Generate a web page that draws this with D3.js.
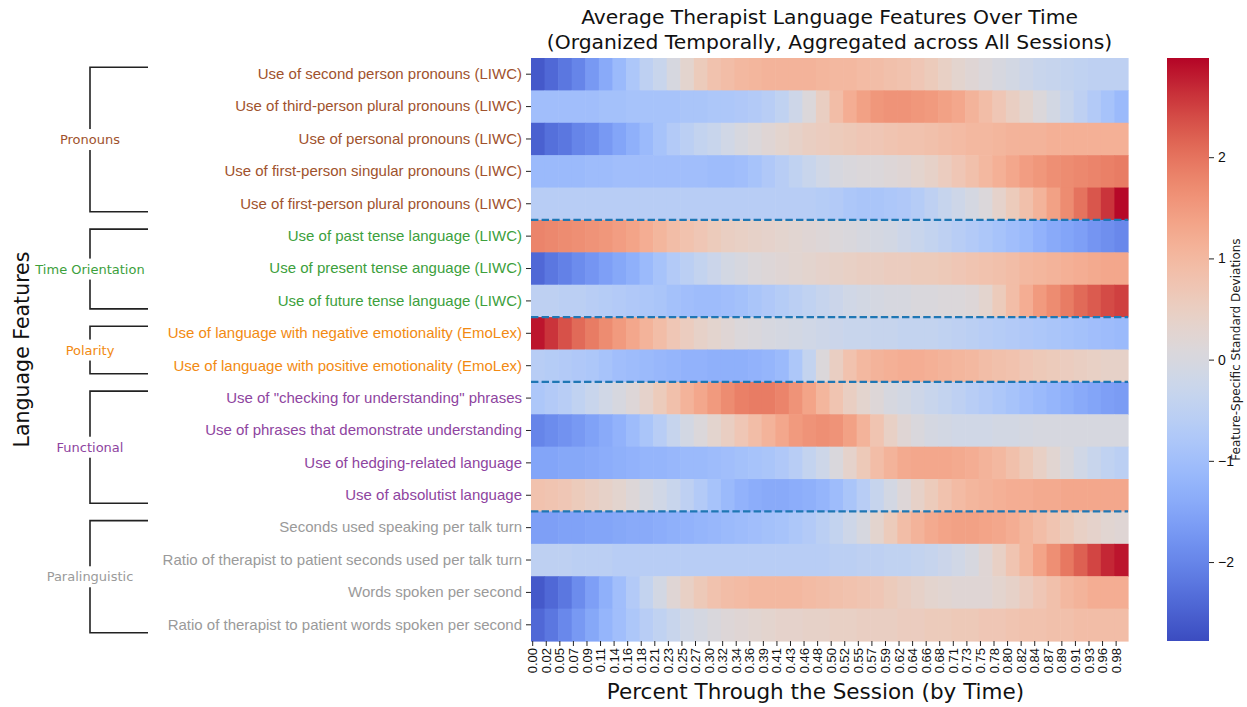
<!DOCTYPE html>
<html>
<head>
<meta charset="utf-8">
<script src="https://cdn.jsdelivr.net/npm/d3@7"></script>
<style>
  html, body { margin: 0; padding: 0; background: #fff; }
  svg { font-family: "DejaVu Sans", sans-serif; display: block; }
</style>
</head>
<body>
<div id="chart"></div>
<script>
// row labels, top to bottom
const features = [
  'Use of second person pronouns (LIWC)',
  'Use of third-person plural pronouns (LIWC)',
  'Use of personal pronouns (LIWC)',
  'Use of first-person singular pronouns (LIWC)',
  'Use of first-person plural pronouns (LIWC)',
  'Use of past tense language (LIWC)',
  'Use of present tense anguage (LIWC)',
  'Use of future tense language (LIWC)',
  'Use of language with negative emotionality (EmoLex)',
  'Use of language with positive emotionality (EmoLex)',
  'Use of "checking for understanding" phrases',
  'Use of phrases that demonstrate understanding',
  'Use of hedging-related language',
  'Use of absolutist language',
  'Seconds used speaking per talk turn',
  'Ratio of therapist to patient seconds used per talk turn',
  'Words spoken per second',
  'Ratio of therapist to patient words spoken per second'
];

const groupNames = ['Pronouns', 'Time Orientation', 'Polarity', 'Functional', 'Paralinguistic'];
const groupSizes = [5, 3, 2, 4, 4];
const groupColors = ['#a0522d', '#3ca03c', '#f28a12', '#8e44a0', '#9a9a9a'];

const xTickLabels = [
  '0.00', '0.02', '0.05', '0.07', '0.09', '0.11', '0.14', '0.16', '0.18', '0.21', '0.23',
  '0.25', '0.27', '0.30', '0.32', '0.34', '0.36', '0.39', '0.41', '0.43', '0.46', '0.48',
  '0.50', '0.52', '0.55', '0.57', '0.59', '0.62', '0.64', '0.66', '0.68', '0.71', '0.73',
  '0.75', '0.78', '0.80', '0.82', '0.84', '0.87', '0.89', '0.91', '0.93', '0.96', '0.98'
];
const colorTicks = [-2, -1, 0, 1, 2];
const colorMin = -2.78, colorMax = 2.98;

// standardized values, one per x tick bin
const secondPerson = [-2.6, -2.4, -2.2, -2.0, -1.7, -1.4, -1.1, -0.8, -0.5, -0.3, 0.0, 0.3, 0.6, 0.8, 0.9, 1.0, 1.05, 1.1, 1.1, 1.1, 1.1, 1.05, 1.0, 1.0, 0.95, 0.9, 0.85, 0.8, 0.7, 0.6, 0.45, 0.3, 0.2, 0.1, 0.0, -0.1, -0.2, -0.3, -0.35, -0.4, -0.45, -0.5, -0.5, -0.5];
const thirdPlural = [-1.0, -1.0, -1.0, -1.0, -1.0, -0.95, -0.95, -0.9, -0.9, -0.9, -0.9, -0.85, -0.85, -0.8, -0.8, -0.75, -0.7, -0.6, -0.45, -0.2, 0.1, 0.5, 0.9, 1.2, 1.4, 1.55, 1.6, 1.6, 1.55, 1.5, 1.4, 1.3, 1.1, 0.9, 0.7, 0.5, 0.3, 0.1, -0.1, -0.3, -0.5, -0.7, -0.9, -1.1];
const personal = [-2.5, -2.3, -2.2, -2.0, -1.9, -1.7, -1.5, -1.3, -1.1, -0.9, -0.7, -0.55, -0.4, -0.3, -0.15, 0.0, 0.1, 0.2, 0.3, 0.4, 0.5, 0.55, 0.6, 0.65, 0.7, 0.7, 0.75, 0.8, 0.8, 0.85, 0.9, 0.95, 1.0, 1.0, 1.05, 1.1, 1.1, 1.1, 1.15, 1.15, 1.15, 1.15, 1.15, 1.15];
const firstSingular = [-1.1, -1.1, -1.1, -1.1, -1.05, -1.05, -1.0, -1.0, -1.0, -1.0, -1.0, -1.0, -1.0, -1.05, -1.05, -1.0, -0.9, -0.75, -0.6, -0.45, -0.3, -0.15, 0.0, 0.05, 0.1, 0.1, 0.15, 0.2, 0.3, 0.4, 0.55, 0.7, 0.85, 1.0, 1.15, 1.3, 1.45, 1.55, 1.65, 1.7, 1.75, 1.8, 1.85, 1.9];
const firstPlural = [-0.6, -0.6, -0.6, -0.6, -0.6, -0.6, -0.6, -0.6, -0.6, -0.6, -0.6, -0.6, -0.6, -0.6, -0.6, -0.6, -0.6, -0.6, -0.6, -0.6, -0.6, -0.65, -0.7, -0.8, -0.85, -0.85, -0.8, -0.75, -0.65, -0.5, -0.35, -0.2, -0.05, 0.1, 0.35, 0.6, 0.85, 1.1, 1.4, 1.7, 2.0, 2.3, 2.6, 2.95];
const pastTense = [1.8, 1.75, 1.7, 1.65, 1.6, 1.55, 1.45, 1.35, 1.2, 1.05, 0.9, 0.8, 0.7, 0.6, 0.5, 0.45, 0.4, 0.35, 0.3, 0.25, 0.2, 0.15, 0.1, 0.05, 0.0, -0.05, -0.1, -0.2, -0.3, -0.4, -0.5, -0.6, -0.7, -0.8, -0.9, -1.0, -1.1, -1.25, -1.4, -1.5, -1.6, -1.75, -1.85, -1.95];
const presentTense = [-2.4, -2.2, -2.05, -1.9, -1.75, -1.6, -1.45, -1.3, -1.1, -0.9, -0.7, -0.55, -0.4, -0.25, -0.1, 0.0, 0.1, 0.15, 0.2, 0.25, 0.3, 0.35, 0.4, 0.45, 0.5, 0.5, 0.55, 0.55, 0.6, 0.6, 0.65, 0.7, 0.75, 0.8, 0.85, 0.9, 1.0, 1.05, 1.1, 1.15, 1.2, 1.25, 1.3, 1.3];
const futureTense = [-0.5, -0.5, -0.55, -0.55, -0.6, -0.65, -0.7, -0.75, -0.8, -0.85, -0.95, -1.0, -1.05, -1.05, -1.0, -0.95, -0.85, -0.75, -0.65, -0.55, -0.45, -0.35, -0.25, -0.15, -0.1, -0.05, 0.0, 0.0, 0.05, 0.05, 0.1, 0.1, 0.15, 0.3, 0.6, 0.9, 1.2, 1.5, 1.7, 1.9, 2.1, 2.25, 2.4, 2.5];
const negativeEmo = [2.85, 2.6, 2.35, 2.1, 1.9, 1.7, 1.5, 1.3, 1.1, 0.9, 0.7, 0.55, 0.4, 0.3, 0.2, 0.1, 0.05, 0.0, -0.05, -0.1, -0.15, -0.2, -0.25, -0.3, -0.3, -0.35, -0.35, -0.4, -0.4, -0.4, -0.45, -0.5, -0.55, -0.6, -0.65, -0.7, -0.75, -0.8, -0.85, -0.9, -0.95, -1.0, -1.05, -1.1];
const positiveEmo = [-0.6, -0.65, -0.7, -0.75, -0.8, -0.9, -1.0, -1.05, -1.1, -1.15, -1.2, -1.25, -1.25, -1.3, -1.3, -1.3, -1.25, -1.2, -1.1, -0.8, -0.4, 0.1, 0.5, 0.8, 1.0, 1.1, 1.15, 1.2, 1.2, 1.15, 1.1, 1.05, 1.0, 0.9, 0.85, 0.8, 0.7, 0.65, 0.6, 0.55, 0.5, 0.45, 0.4, 0.4];
const checkingUnderstanding = [-0.8, -0.7, -0.6, -0.45, -0.3, -0.15, 0.0, 0.15, 0.35, 0.6, 0.85, 1.1, 1.3, 1.5, 1.7, 1.85, 1.9, 1.9, 1.8, 1.6, 1.35, 1.05, 0.75, 0.5, 0.3, 0.15, 0.0, -0.1, -0.2, -0.3, -0.4, -0.5, -0.6, -0.7, -0.8, -0.9, -1.0, -1.1, -1.2, -1.3, -1.4, -1.5, -1.6, -1.65];
const demonstrateUnderstanding = [-2.0, -1.9, -1.8, -1.7, -1.55, -1.4, -1.25, -1.05, -0.85, -0.6, -0.35, -0.1, 0.1, 0.3, 0.5, 0.7, 0.9, 1.1, 1.3, 1.5, 1.6, 1.65, 1.6, 1.4, 1.1, 0.75, 0.45, 0.2, 0.05, -0.05, -0.1, -0.15, -0.15, -0.15, -0.1, -0.1, -0.05, 0.0, 0.0, 0.0, 0.0, 0.0, 0.0, 0.0];
const hedging = [-1.5, -1.5, -1.45, -1.45, -1.4, -1.35, -1.3, -1.25, -1.2, -1.2, -1.15, -1.1, -1.1, -1.05, -1.0, -0.95, -0.9, -0.85, -0.75, -0.6, -0.4, -0.2, 0.05, 0.35, 0.65, 0.9, 1.1, 1.25, 1.3, 1.3, 1.3, 1.25, 1.2, 1.1, 1.0, 0.85, 0.65, 0.45, 0.25, 0.05, -0.15, -0.3, -0.45, -0.55];
const absolutist = [0.8, 0.75, 0.7, 0.6, 0.5, 0.4, 0.3, 0.15, 0.0, -0.15, -0.3, -0.5, -0.7, -0.9, -1.1, -1.25, -1.35, -1.4, -1.4, -1.35, -1.3, -1.2, -1.05, -0.85, -0.6, -0.35, -0.1, 0.15, 0.4, 0.6, 0.8, 0.95, 1.05, 1.1, 1.15, 1.2, 1.2, 1.25, 1.25, 1.3, 1.3, 1.3, 1.3, 1.3];
const secondsPerTurn = [-1.6, -1.6, -1.55, -1.55, -1.5, -1.5, -1.45, -1.4, -1.4, -1.35, -1.3, -1.25, -1.2, -1.15, -1.1, -1.05, -1.0, -0.95, -0.9, -0.8, -0.7, -0.55, -0.4, -0.2, 0.0, 0.3, 0.6, 0.9, 1.1, 1.25, 1.35, 1.4, 1.4, 1.35, 1.3, 1.2, 1.05, 0.9, 0.75, 0.6, 0.45, 0.35, 0.25, 0.2];
const secondsRatio = [-0.5, -0.5, -0.5, -0.55, -0.55, -0.55, -0.6, -0.6, -0.6, -0.6, -0.6, -0.6, -0.6, -0.6, -0.6, -0.6, -0.6, -0.6, -0.6, -0.6, -0.6, -0.6, -0.55, -0.55, -0.5, -0.5, -0.45, -0.45, -0.4, -0.35, -0.25, -0.15, 0.0, 0.2, 0.45, 0.75, 1.05, 1.35, 1.65, 1.95, 2.2, 2.45, 2.7, 2.85];
const wordsPerSecond = [-2.6, -2.4, -2.2, -1.9, -1.6, -1.3, -1.0, -0.7, -0.4, -0.1, 0.2, 0.45, 0.65, 0.8, 0.9, 0.95, 1.0, 1.0, 1.0, 1.0, 0.95, 0.9, 0.85, 0.8, 0.75, 0.7, 0.6, 0.5, 0.4, 0.3, 0.25, 0.2, 0.2, 0.2, 0.3, 0.4, 0.55, 0.7, 0.85, 1.0, 1.1, 1.2, 1.2, 1.2];
const wordsRatio = [-2.4, -2.2, -1.95, -1.7, -1.45, -1.2, -1.0, -0.8, -0.6, -0.45, -0.3, -0.15, -0.05, 0.05, 0.15, 0.2, 0.25, 0.3, 0.35, 0.35, 0.4, 0.4, 0.45, 0.45, 0.5, 0.5, 0.5, 0.55, 0.55, 0.6, 0.6, 0.65, 0.65, 0.7, 0.7, 0.75, 0.8, 0.8, 0.85, 0.85, 0.9, 0.9, 0.9, 0.9];

const matrix = [
  secondPerson, thirdPlural, personal, firstSingular, firstPlural,
  pastTense, presentTense, futureTense,
  negativeEmo, positiveEmo,
  checkingUnderstanding, demonstrateUnderstanding, hedging, absolutist,
  secondsPerTurn, secondsRatio, wordsPerSecond, wordsRatio
];

// matplotlib coolwarm anchors
const coolwarm = ['#3b4cc0', '#6282ea', '#8db0fe', '#b8d0f9', '#dddddd', '#f5c4ad', '#f49a7b', '#de604d', '#b40426'];

const W = 1247, H = 707;
const plot = {left: 531, right: 1128, top: 58, bottom: 641};

const svg = d3.select('#chart').append('svg')
  .attr('width', W)
  .attr('height', H);

const x = d3.scaleBand()
  .domain(d3.range(xTickLabels.length))
  .range([plot.left, plot.right]);

const y = d3.scaleBand()
  .domain(features)
  .range([plot.top, plot.bottom]);

const color = d3.scaleSequential(d3.interpolateRgbBasis(coolwarm))
  .domain([colorMin, colorMax]);

// group of each row
const rowGroup = [];
groupSizes.forEach((n, g) => { for (let k = 0; k < n; k++) rowGroup.push(g); });

// heatmap cells
const cells = [];
matrix.forEach((row, r) => row.forEach((v, c) => cells.push({r, c, v})));
svg.append('g')
  .selectAll('rect')
  .data(cells)
  .join('rect')
  .attr('x', d => x(d.c))
  .attr('y', d => y(features[d.r]))
  .attr('width', x.bandwidth() + 0.6)
  .attr('height', y.bandwidth() + 0.6)
  .attr('fill', d => color(d.v));

// group separators
const starts = d3.cumsum(groupSizes).slice(0, -1);
svg.append('g')
  .selectAll('line')
  .data(starts)
  .join('line')
  .attr('x1', plot.left)
  .attr('x2', plot.right)
  .attr('y1', d => y(features[d]))
  .attr('y2', d => y(features[d]))
  .attr('stroke', '#1f77b4')
  .attr('stroke-width', 2.2)
  .attr('stroke-dasharray', '7.4,3.2');

// x axis: labels sit on the first sub-column of each bin
const xAxis = svg.append('g')
  .attr('transform', `translate(${-x.bandwidth() * 3 / 8},${plot.bottom})`)
  .call(d3.axisBottom(x).tickSize(5).tickFormat(i => xTickLabels[i]));
xAxis.select('.domain').remove();
xAxis.selectAll('line').attr('stroke', '#222').attr('stroke-width', 1);
xAxis.selectAll('text')
  .attr('font-size', 13)
  .attr('fill', '#111')
  .attr('transform', 'rotate(-90)')
  .attr('text-anchor', 'end')
  .attr('x', -7)
  .attr('y', 0)
  .attr('dy', '0.35em');

// y axis
const yAxis = svg.append('g')
  .attr('transform', `translate(${plot.left},0)`)
  .call(d3.axisLeft(y).tickSize(5).tickPadding(4));
yAxis.select('.domain').remove();
yAxis.selectAll('line').attr('stroke', '#222').attr('stroke-width', 1);
yAxis.selectAll('text')
  .attr('font-size', 15)
  .attr('fill', (d, i) => groupColors[rowGroup[i]]);

// group brackets
let rowStart = 0;
groupSizes.forEach((n, g) => {
  const half = y.bandwidth() / 2;
  const top = y(features[rowStart]) + half - 7;
  const bot = y(features[rowStart + n - 1]) + half + 8;
  const bx = 90, tip = 148;
  const br = svg.append('g');
  br.append('path')
    .attr('d', `M${tip},${top}H${bx}V${bot}H${tip}`)
    .attr('fill', 'none')
    .attr('stroke', '#222')
    .attr('stroke-width', 1.6);
  const lbl = br.append('text')
    .attr('x', bx)
    .attr('y', (top + bot) / 2)
    .attr('dy', '0.35em')
    .attr('text-anchor', 'middle')
    .attr('font-size', 13)
    .attr('fill', groupColors[g])
    .text(groupNames[g]);
  const bb = lbl.node().getBBox();
  br.insert('rect', 'text')
    .attr('x', bb.x - 2)
    .attr('y', bb.y - 3)
    .attr('width', bb.width + 4)
    .attr('height', bb.height + 6)
    .attr('fill', '#fff');
  rowStart += n;
});

// colorbar
const cb = {x: 1167, w: 42};
const cy = d3.scaleLinear().domain([colorMin, colorMax]).range([plot.bottom, plot.top]);
const grad = svg.append('defs').append('linearGradient')
  .attr('id', 'cbar')
  .attr('x1', 0).attr('x2', 0).attr('y1', 1).attr('y2', 0);
grad.selectAll('stop')
  .data(d3.range(0, 1.0001, 0.02))
  .join('stop')
  .attr('offset', t => t)
  .attr('stop-color', t => color(colorMin + t * (colorMax - colorMin)));
svg.append('rect')
  .attr('x', cb.x)
  .attr('y', plot.top)
  .attr('width', cb.w)
  .attr('height', plot.bottom - plot.top)
  .attr('fill', 'url(#cbar)');
const cAxis = svg.append('g')
  .attr('transform', `translate(${cb.x + cb.w},0)`)
  .call(d3.axisRight(cy).tickValues(colorTicks).tickSize(5).tickPadding(4)
    .tickFormat(d => d < 0 ? '\u2212' + Math.abs(d) : d));
cAxis.select('.domain').remove();
cAxis.selectAll('line').attr('stroke', '#222');
cAxis.selectAll('text').attr('font-size', 14).attr('fill', '#111');

svg.append('text')
  .attr('transform', `translate(1240,${(plot.top + plot.bottom) / 2}) rotate(-90)`)
  .attr('text-anchor', 'middle')
  .attr('font-size', 12)
  .attr('fill', '#222')
  .text('Feature-Specific Standard Deviations');

// titles
const midX = (plot.left + plot.right) / 2;
svg.append('text')
  .attr('x', midX).attr('y', 24)
  .attr('text-anchor', 'middle')
  .attr('font-size', 20.3)
  .attr('fill', '#111')
  .text('Average Therapist Language Features Over Time');
svg.append('text')
  .attr('x', midX).attr('y', 49)
  .attr('text-anchor', 'middle')
  .attr('font-size', 20.3)
  .attr('fill', '#111')
  .text('(Organized Temporally, Aggregated across All Sessions)');

svg.append('text')
  .attr('x', midX - 14).attr('y', 699)
  .attr('text-anchor', 'middle')
  .attr('font-size', 21.5)
  .attr('fill', '#111')
  .text('Percent Through the Session (by Time)');

svg.append('text')
  .attr('transform', `translate(29,${(plot.top + plot.bottom) / 2}) rotate(-90)`)
  .attr('text-anchor', 'middle')
  .attr('font-size', 20.5)
  .attr('fill', '#111')
  .text('Language Features');
</script>
</body>
</html>
